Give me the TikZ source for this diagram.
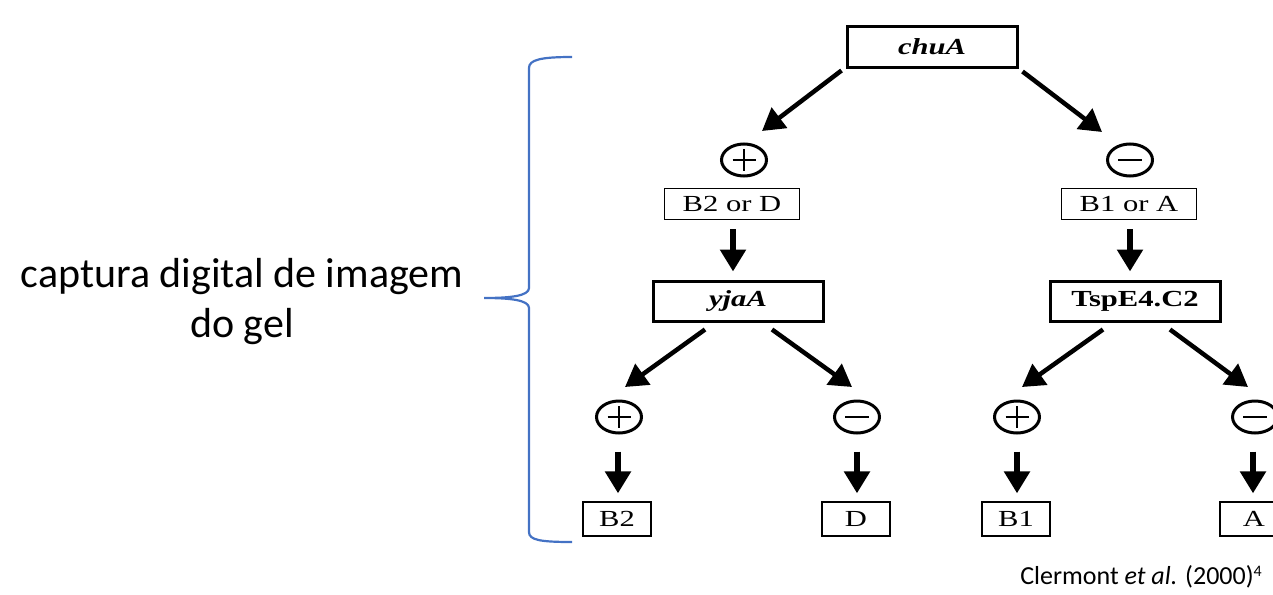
\documentclass[tikz,border=0pt]{standalone}
\usepackage{fontspec}
\usetikzlibrary{arrows.meta,shapes.geometric,calc}
\newfontfamily\treefont{Liberation Serif}[FakeStretch=1.33]
\newfontfamily\notefont{Carlito}
\definecolor{braceblue}{RGB}{68,114,196}
\begin{document}
\begin{tikzpicture}[x=1pt,y=-1pt,
  genebox/.style={draw,line width=3pt,minimum width=170pt,minimum height=40pt,inner sep=0pt,
    font=\treefont\fontsize{23}{27}\selectfont\bfseries},
  groupbox/.style={draw,line width=1.3pt,minimum width=135pt,minimum height=31pt,inner sep=0pt,
    font=\treefont\fontsize{23}{27}\selectfont},
  leafbox/.style={groupbox,minimum width=68pt,minimum height=34pt},
  sign/.style={draw,ellipse,line width=3pt,minimum width=45pt,minimum height=32pt,inner sep=0pt},
  plussign/.style={sign,path picture={
      \draw[line width=2.6pt] ($(path picture bounding box.center)+(-11.5,0)$) -- +(23,0);
      \draw[line width=2.6pt] ($(path picture bounding box.center)+(0,-11)$) -- +(0,22);}},
  minussign/.style={sign,path picture={
      \draw[line width=2.6pt] ($(path picture bounding box.center)+(-12,0)$) -- +(24,0);}},
  arr/.style={line width=4.5pt,-{Triangle[length=22pt,width=25pt]}},
  down/.style={line width=5.5pt,-{Triangle[length=22pt,width=25pt]}}]
\useasboundingbox (0,0) rectangle (1273,594);

% decision tree
\node[genebox] (chua) at (932,47) {\itshape chuA};
\node[plussign] (p1) at (744,160) {};
\node[minussign] (m1) at (1130,160) {};
\node[groupbox] (b2d) at (732,204) {B2 or D};
\node[groupbox] (b1a) at (1129,204) {B1 or A};
\node[genebox] (yjaa) at (738,301) {\itshape yjaA};
\node[genebox] (tsp) at (1135,301) {TspE4.C2};
\node[plussign] (p2) at (619,417) {};
\node[minussign] (m2) at (857,417) {};
\node[plussign] (p3) at (1017,417) {};
\node[minussign] (m3) at (1255,417) {};
\node[leafbox] (lb2) at (617,519) {B2};
\node[leafbox] (ld) at (856,519) {D};
\node[leafbox] (lb1) at (1016,519) {B1};
\node[leafbox] (la) at (1254,519) {A};

% connectors
\draw[arr] ($(chua.south west)+(-4,2)$) -- ($(p1)+(18,-29)$);
\draw[arr] ($(chua.south east)+(4,3)$) -- ($(m1)+(-28,-28)$);
\draw[down] ($(b2d.south)+(1,9)$) -- ($(yjaa.north)+(-5,-8)$);
\draw[down] ($(b1a.south)+(1,9)$) -- ($(tsp.north)+(-5,-8)$);
\draw[arr] ($(yjaa.south)+(-33,7)$) -- ($(p2)+(6,-30)$);
\draw[arr] ($(yjaa.south)+(34,7)$) -- ($(m2)+(-5,-30)$);
\draw[arr] ($(tsp.south)+(-32,7)$) -- ($(p3)+(5,-30)$);
\draw[arr] ($(tsp.south)+(35,7)$) -- ($(m3)+(-7,-30)$);
\draw[down] ($(p2.south)+(-1,17)$) -- ($(lb2.north)+(1,-8)$);
\draw[down] ($(m2.south)+(0,17)$) -- ($(ld.north)+(1,-8)$);
\draw[down] ($(p3.south)+(0,17)$) -- ($(lb1.north)+(1,-8)$);
\draw[down] ($(m3.south)+(-2,17)$) -- ($(la.north)+(-1,-8)$);

% brace and its label
\coordinate (bracetop) at (572,57);
\coordinate (bracebot) at (572,542);
\coordinate (bracetip) at (484,298);
\draw[braceblue,line width=2.2pt]
  (bracetop) .. controls (540,57) and (529,60) .. (529,68) -- (529,288)
  .. controls (529,296) and (510,298) .. (bracetip)
  .. controls (510,298) and (529,300) .. (529,308) -- (529,532)
  .. controls (529,540) and (540,542) .. (bracebot);
\node[align=center,font=\notefont\fontsize{42}{50}\selectfont,inner sep=0pt]
  (gel) at (242,302) {captura digital de imagem\\do gel};

% source
\node[anchor=base east,inner sep=0pt,font=\notefont\fontsize{26}{30}\selectfont]
  (src) at (1262,584) {Clermont {\itshape et al.} (2000)\raisebox{0.6ex}{\fontsize{16}{18}\selectfont 4}};
\end{tikzpicture}
\end{document}
